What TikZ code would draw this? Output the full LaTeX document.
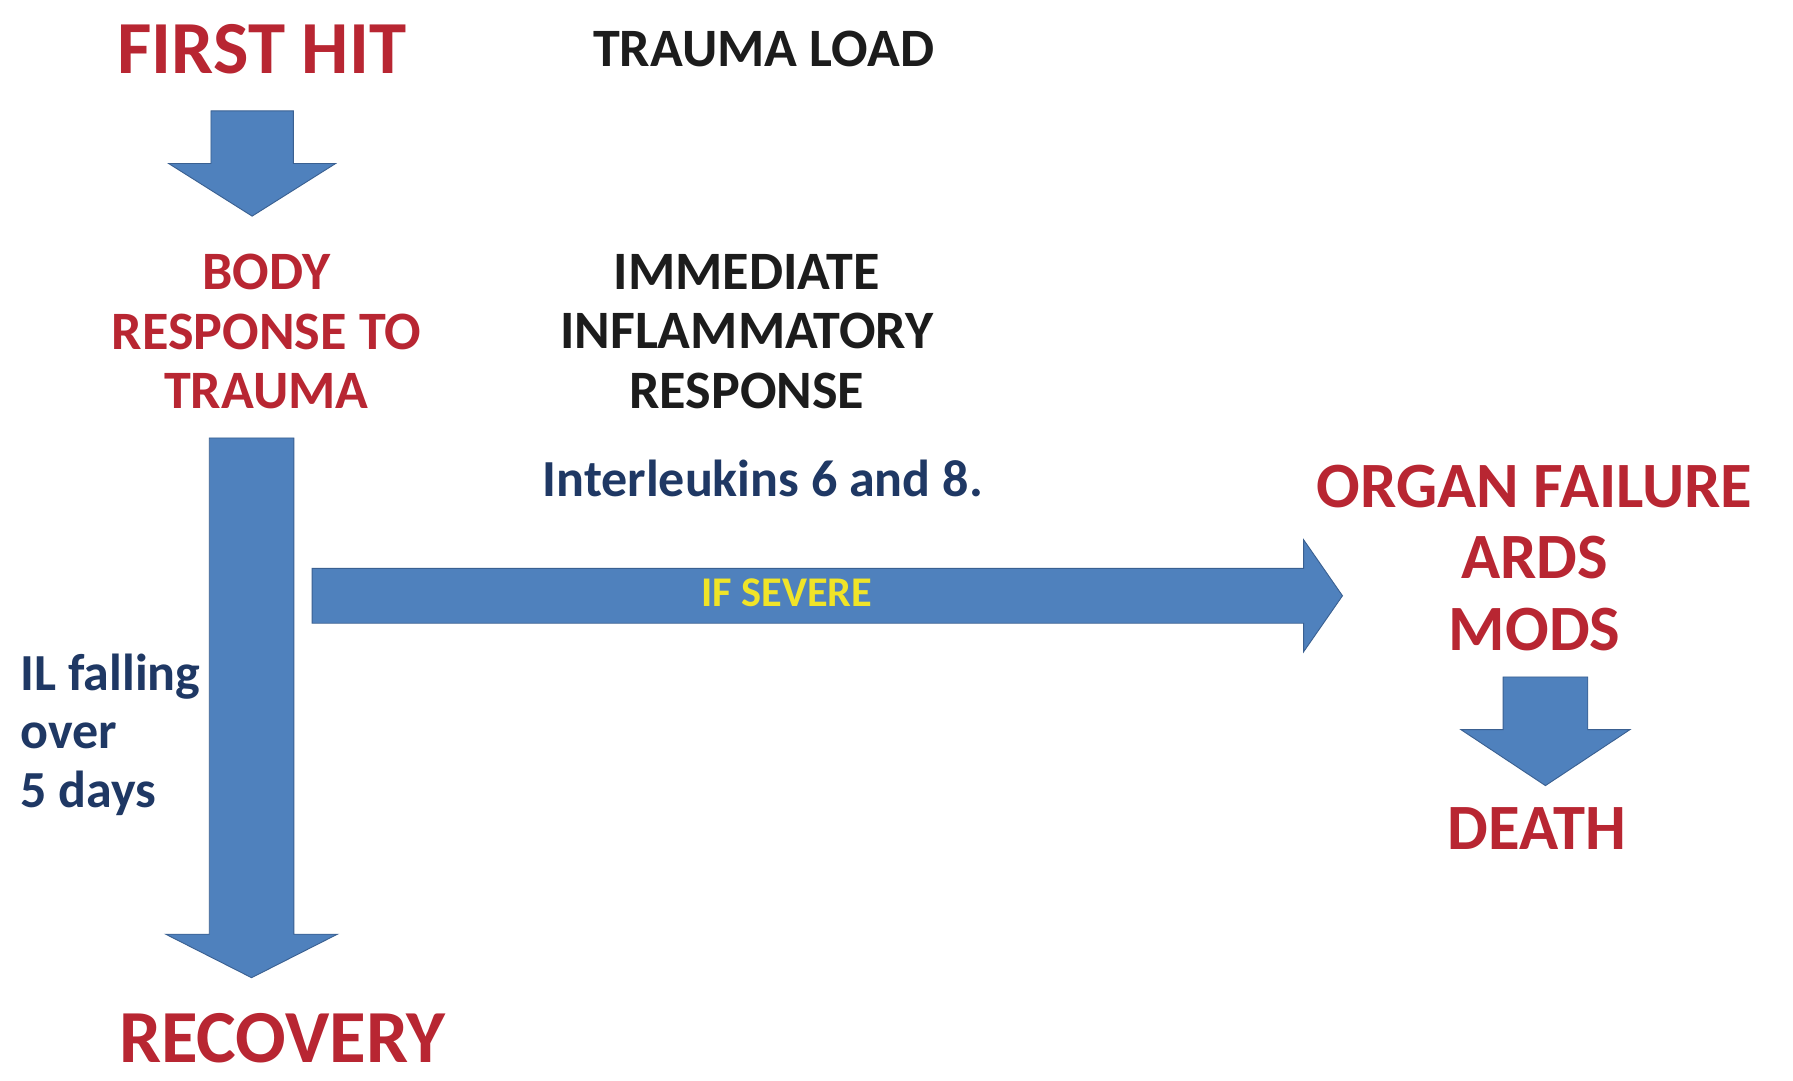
\documentclass[tikz,border=0pt]{standalone}
\usepackage{fontspec}
\setmainfont{Carlito}
\usetikzlibrary{calc}
\definecolor{txtred}{RGB}{184,38,50}
\definecolor{txtblack}{RGB}{28,28,28}
\definecolor{txtblue}{RGB}{31,56,100}
\definecolor{blockblue}{RGB}{79,129,189}
\definecolor{blockedge}{RGB}{58,96,145}
\definecolor{sevyellow}{RGB}{240,228,40}
\begin{document}
\begin{tikzpicture}[x=1pt,y=-1pt,
  every node/.style={inner sep=0pt, outer sep=0pt},
  bigred/.style={text=txtred, font=\bfseries\fontsize{65.5}{70}\selectfont},
  midred/.style={text=txtred, font=\bfseries\fontsize{56.5}{62.5}\selectfont, align=center},
  smallred/.style={text=txtred, font=\bfseries\fontsize{47.3}{52}\selectfont, align=center},
  blacktxt/.style={text=txtblack, font=\bfseries\fontsize{47.3}{52}\selectfont, align=center},
  bluetxt/.style={text=txtblue, font=\bfseries\fontsize{45.5}{51}\selectfont, align=left},
  sevtxt/.style={text=sevyellow, font=\bfseries\fontsize{37}{40}\selectfont},
  arrowbox/.style={fill=blockblue, draw=blockedge, line width=0.8pt, line join=miter},
  downarrow/.style n args={3}{to path={let \p1=(\tikztostart), \p2=(\tikztotarget) in
    (\x1-#1,\y1) -- (\x1+#1,\y1) -- (\x1+#1,\y2+#3) -- (\x1+#2,\y2+#3) -- (\x1,\y2)
    -- (\x1-#2,\y2+#3) -- (\x1-#1,\y2+#3) -- cycle}},
  rightarrow/.style n args={3}{to path={let \p1=(\tikztostart), \p2=(\tikztotarget) in
    (\x1,\y1+#1) -- (\x2-#3,\y1+#1) -- (\x2-#3,\y1+#2) -- (\x2,\y1)
    -- (\x2-#3,\y1-#2) -- (\x2-#3,\y1-#1) -- (\x1,\y1-#1) -- cycle}}
]
\useasboundingbox[fill=white] (0,0) rectangle (1568,945);

% texts
\node[bigred] (first) at (229,43) {FIRST HIT};
\node[blacktxt] (load) at (668,43) {TRAUMA LOAD};
\node[smallred] (body) at (233,290) {BODY\\RESPONSE TO\\TRAUMA};
\node[blacktxt] (imm) at (653,290) {IMMEDIATE\\INFLAMMATORY\\RESPONSE};
\node[bluetxt, anchor=base] (ilk) at (667,434) {Interleukins 6 and 8.};
\node[bluetxt, anchor=west] (ilfall) at (18,642.5) {IL falling\\over\\5 days};
\node[bigred] (recov) at (247,908) {RECOVERY};
\node[midred] (organ) at (1342,488) {ORGAN FAILURE\\ARDS\\MODS};
\node[midred] (death) at (1344,725) {DEATH};

% arrow end points
\coordinate (a1s) at (220.5,97);
\coordinate (a1e) at (220.5,189);
\coordinate (a2s) at (220,383);
\coordinate (a2e) at (220,855);
\coordinate (a3s) at (273,521);
\coordinate (a3e) at (1174,521);
\coordinate (a4s) at (1351.5,592);
\coordinate (a4e) at (1351.5,687);

% block arrows
\draw[arrowbox, downarrow={36pt}{73pt}{46pt}] (a1s) to (a1e);
\draw[arrowbox, downarrow={37pt}{75pt}{38pt}] (a2s) to (a2e);
\draw[arrowbox, rightarrow={24pt}{49pt}{34pt}] (a3s) to (a3e);
\draw[arrowbox, downarrow={37pt}{74pt}{49pt}] (a4s) to (a4e);

\node[sevtxt] (severe) at (688,518) {IF SEVERE};
\end{tikzpicture}
\end{document}
